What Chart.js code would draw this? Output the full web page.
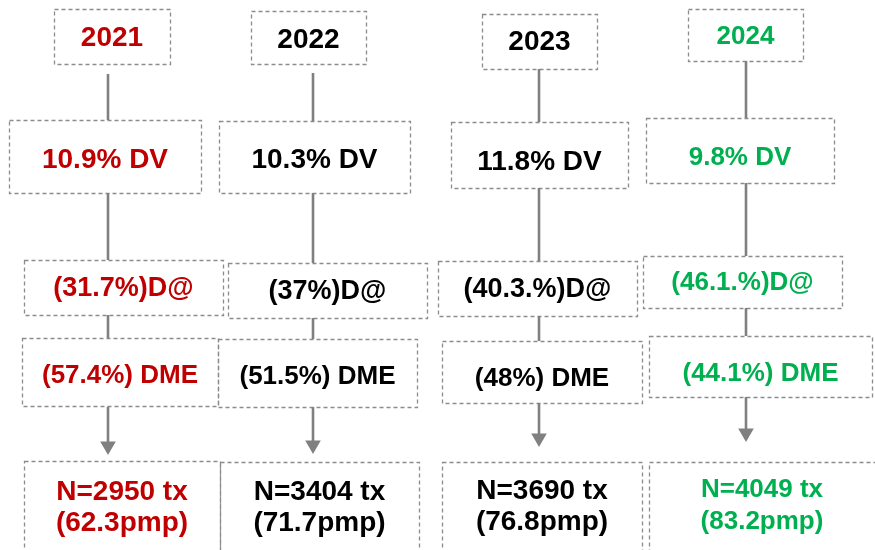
<!DOCTYPE html>
<html>
<head>
<meta charset="utf-8">
<script src="https://cdn.jsdelivr.net/npm/chart.js@4.4.0/dist/chart.umd.min.js"></script>
<style>
  html, body { margin: 0; padding: 0; background: #fff; }
  #wrap { width: 875px; height: 550px; }
</style>
</head>
<body>
<div id="wrap"><canvas id="flow" width="875" height="550"></canvas></div>
<script>
// datos por año
const years = ['2021', '2022', '2023', '2024'];
const dvPct = ['10.9', '10.3', '11.8', '9.8'];
const dAtPct = ['31.7', '37', '40.3.', '46.1.'];
const dmePct = ['57.4', '51.5', '48', '44.1'];
const nTx = [2950, 3404, 3690, 4049];
const pmp = ['62.3', '71.7', '76.8', '83.2'];
const yearColors = ['#C00000', '#000000', '#000000', '#00B050'];

// geometría (coordenadas de la escala 0..875 x 0..550)
const colX = [108, 313, 539, 746];
// cajas: [x0, x1, y0, y1]
const boxes = [
    { year: [54, 170, 9, 64], dv: [9, 201, 120, 193], dat: [24, 223, 260, 315], dme: [22, 218, 338, 406], n: [24, 220, 461, 560] },
    { year: [251, 366, 11, 64], dv: [219, 410, 121, 193], dat: [228, 427, 263, 318], dme: [218, 417, 339, 407], n: [220, 419, 462, 560] },
    { year: [482, 597, 14, 69], dv: [451, 628, 122, 188], dat: [438, 637, 261, 316], dme: [442, 642, 341, 403], n: [442, 642, 462, 560] },
    { year: [688, 803, 9, 61], dv: [646, 834, 118, 183], dat: [643, 842, 256, 308], dme: [649, 872, 336, 397], n: [649, 880, 462, 560] }
];
// centro vertical del texto
const textY = [
    { year: 38, dv: 160, dat: 289, dme: 376, n: [492, 523] },
    { year: 40, dv: 160, dat: 292, dme: 377, n: [492, 523] },
    { year: 42, dv: 162, dat: 290, dme: 379, n: [491, 522] },
    { year: 37, dv: 158, dat: 283, dme: 374, n: [490, 522] }
];
// conectores [y0, y1] y punta de flecha
const links = [
    [[74, 120], [193, 260], [315, 338], [407, 450]],
    [[73, 121], [193, 263], [318, 339], [407, 449]],
    [[69, 122], [188, 261], [316, 341], [403, 442]],
    [[61, 118], [183, 256], [308, 336], [397, 437]]
];
const arrowTip = [455, 454, 447, 442];

const fontFam = '"Century Gothic", "Liberation Sans", Arial, sans-serif';
const rowFont = { year: 28, dv: 28, dat: 27, dme: 26, n: 28 };
const arrowR = 9;

// segmentos de línea separados con null
const linkPoints = [];
links.forEach((col, i) => {
    col.forEach(seg => {
        linkPoints.push({ x: colX[i], y: seg[0] });
        linkPoints.push({ x: colX[i], y: seg[1] });
        linkPoints.push({ x: colX[i], y: null });
    });
});
const arrowPoints = colX.map((x, i) => ({ x: x, y: arrowTip[i] - arrowR }));

function boxTexts(i) {
    return {
        year: [years[i]],
        dv: [dvPct[i] + '% DV'],
        dat: ['(' + dAtPct[i] + '%)D@'],
        dme: ['(' + dmePct[i] + '%) DME'],
        n: ['N=' + nTx[i] + ' tx', '(' + pmp[i] + 'pmp)']
    };
}

const flowPlugin = {
    id: 'flowBoxes',
    beforeDatasetsDraw(chart) {
        const { ctx, scales } = chart;
        const sx = v => scales.x.getPixelForValue(v);
        const sy = v => scales.y.getPixelForValue(v);
        ctx.save();
        ctx.strokeStyle = '#8c8c8c';
        ctx.lineWidth = 1.3;
        ctx.setLineDash([4, 3]);
        boxes.forEach(col => {
            Object.values(col).forEach(b => {
                const x0 = sx(b[0]), x1 = sx(b[1]), y0 = sy(b[2]), y1 = sy(b[3]);
                ctx.strokeRect(x0 + 0.5, y0 + 0.5, x1 - x0, y1 - y0);
            });
        });
        ctx.restore();
    },
    afterDatasetsDraw(chart) {
        const { ctx, scales } = chart;
        const sx = v => scales.x.getPixelForValue(v);
        const sy = v => scales.y.getPixelForValue(v);
        ctx.save();
        ctx.textAlign = 'center';
        ctx.textBaseline = 'middle';
        years.forEach((yr, i) => {
            const texts = boxTexts(i);
            ctx.fillStyle = yearColors[i];
            Object.keys(texts).forEach(key => {
                const b = boxes[i][key];
                const cx = sx((b[0] + Math.min(b[1], 875)) / 2);
                let size = rowFont[key];
                if (i === 3 && key !== 'dme') size = 26;
                ctx.font = 'bold ' + size + 'px ' + fontFam;
                const ys = Array.isArray(textY[i][key]) ? textY[i][key] : [textY[i][key]];
                texts[key].forEach((t, k) => {
                    ctx.fillText(t, cx, sy(ys[k]));
                });
            });
        });
        ctx.restore();
    }
};

new Chart(document.getElementById('flow'), {
    type: 'scatter',
    data: {
        datasets: [
            {
                type: 'line',
                label: 'conectores',
                data: linkPoints,
                borderColor: '#808080',
                borderWidth: 2.6,
                pointRadius: 0,
                spanGaps: false,
                fill: false
            },
            {
                label: 'flechas',
                data: arrowPoints,
                pointStyle: 'triangle',
                rotation: 180,
                pointRadius: arrowR,
                backgroundColor: '#808080',
                borderColor: '#808080',
                borderWidth: 0
            }
        ]
    },
    options: {
        responsive: false,
        animation: false,
        layout: { padding: 0, autoPadding: false },
        scales: {
            x: { type: 'linear', min: 0, max: 875, display: false },
            y: { type: 'linear', min: 0, max: 550, reverse: true, display: false }
        },
        plugins: {
            legend: { display: false },
            tooltip: { enabled: false }
        }
    },
    plugins: [flowPlugin]
});
</script>
</body>
</html>
